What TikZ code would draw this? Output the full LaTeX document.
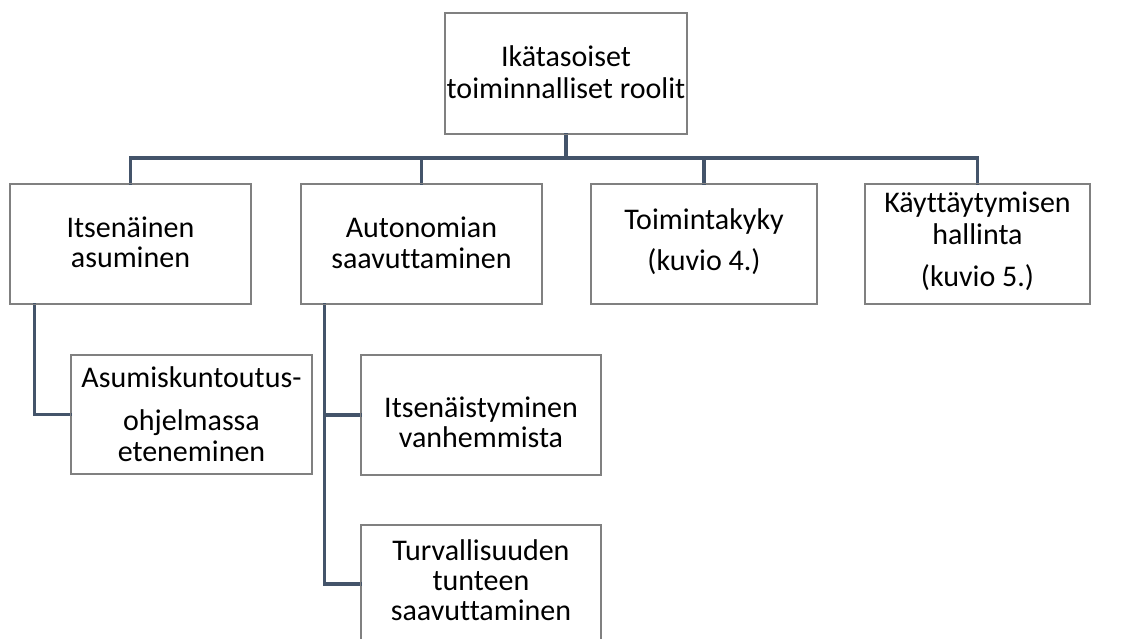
\documentclass[tikz,border=0pt]{standalone}
\usepackage{fontspec}
\setmainfont{Carlito}[Ligatures={NoCommon}]
\begin{document}
\begin{tikzpicture}[x=1pt,y=-1pt,
  box/.style={draw=boxgray,line width=1.3pt,fill=white,rectangle,inner sep=0pt},
  ln/.style={anchor=base,inner sep=0pt,font=\fontsize{30}{33}\selectfont,text=black},
  link/.style={draw=linkslate,line width=3.2pt,line cap=rect}]
\definecolor{boxgray}{HTML}{808080}
\definecolor{linkslate}{HTML}{44546A}
\clip (0,0) rectangle (1122,639);
\fill[white] (0,0) rectangle (1122,639);

% boxes: centre and size from their edges
\newcommand{\boxat}[5]{\node[box,minimum width={#4-#2},minimum height={#5-#3}] (#1) at ({(#2+#4)/2},{(#3+#5)/2}) {};}
\boxat{top}{445}{13}{687}{134}
\boxat{b1}{10}{184}{251}{304}
\boxat{b2}{301}{184}{542}{304}
\boxat{b3}{591}{184}{817}{304}
\boxat{b4}{865}{184}{1090}{304}
\boxat{c1}{71}{355}{312}{474}
\boxat{c2}{361}{355}{601}{475}
\boxat{c3}{361}{525}{601}{643}

% connectors
\coordinate (bar) at (0,158);
\draw[link] (top.south) -- (top.south |- bar);
\draw[link] (b1.north) -- (b1.north |- bar) -- (b4.north |- bar) -- (b4.north);
\draw[link] (b2.north) -- (b2.north |- bar);
\draw[link] (b3.north) -- (b3.north |- bar);
\draw[link] ([xshift=25]b1.south west) |- (c1.west);
\draw[link] ([xshift=24]b2.south west) |- (c2.west);
\draw[link] ([xshift=24]b2.south west) |- (c3.west);

% redraw box outlines over the connector ends
\foreach \b in {top,b1,b2,b3,b4,c1,c2,c3}
  \draw[boxgray,line width=1.3pt] (\b.south west) rectangle (\b.north east);

% texts
\node[ln] (top-1) at (566,67) {Ikätasoiset};
\node[ln] (top-2) at (566,99) {toiminnalliset roolit};
\node[ln] (b1-1) at (130.5,237) {Itsenäinen};
\node[ln] (b1-2) at (130.5,268) {asuminen};
\node[ln] (b2-1) at (421.5,238) {Autonomian};
\node[ln] (b2-2) at (421.5,269) {saavuttaminen};
\node[ln] (b3-1) at (704,230) {Toimintakyky};
\node[ln] (b3-2) at (704,270) {(kuvio 4.)};
\node[ln] (b4-1) at (977.5,213) {Käyttäytymisen};
\node[ln] (b4-2) at (977.5,245) {hallinta};
\node[ln] (b4-3) at (977.5,287) {(kuvio 5.)};
\node[ln] (c1-1) at (191.5,387) {Asumiskuntoutus-};
\node[ln] (c1-2) at (191.5,430) {ohjelmassa};
\node[ln] (c1-3) at (191.5,461) {eteneminen};
\node[ln] (c2-1) at (481,417) {Itsenäistyminen};
\node[ln] (c2-2) at (481,447) {vanhemmista};
\node[ln] (c3-1) at (481,560) {Turvallisuuden};
\node[ln] (c3-2) at (481,590) {tunteen};
\node[ln] (c3-3) at (481,620) {saavuttaminen};
\end{tikzpicture}
\end{document}
